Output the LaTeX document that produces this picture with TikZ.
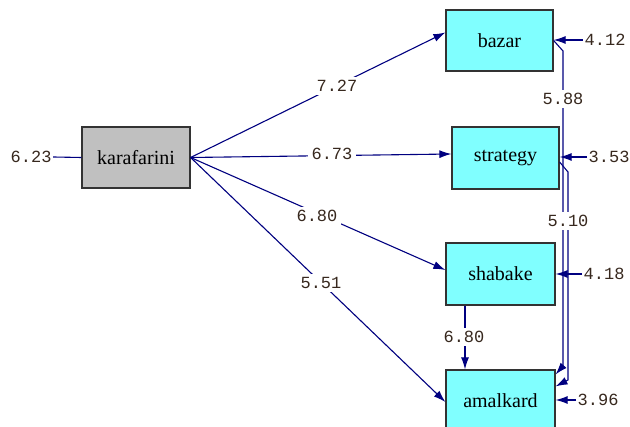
\documentclass[tikz,border=0pt]{standalone}
\usepackage{fontspec}
\setmainfont{Liberation Serif}
\newfontfamily\numfont{Liberation Mono}
\usetikzlibrary{arrows.meta}
\definecolor{pathblue}{RGB}{0,0,128}
\definecolor{boxcyan}{RGB}{128,255,255}
\definecolor{boxgray}{RGB}{192,192,192}
\definecolor{numcol}{RGB}{55,40,30}
\tikzset{
  varbox/.style={draw=black!80, line width=1.2pt, fill=boxcyan, minimum width=107pt, minimum height=62pt, inner sep=0pt, font=\fontsize{20}{22}\selectfont},
  exobox/.style={varbox, fill=boxgray},
  lbl/.style={fill=white, inner xsep=4pt, inner ysep=3pt, text=numcol, font=\numfont\fontsize{17}{18}\selectfont},
  conn/.style={draw=pathblue, line width=1.1pt},
  arr/.style={conn, -{Latex[length=12pt,width=8pt]}}
}
\begin{document}
\begin{tikzpicture}[x=1pt,y=-1pt]
\useasboundingbox (0,0) rectangle (630,427);
\fill[white] (0,0) rectangle (630,427);

% boxes
\node[exobox, minimum width=108pt, minimum height=61pt] (kar) at (136,157.5) {karafarini};
\node[varbox, minimum height=61pt] (bazar) at (499.5,40.5) {bazar\hspace{14pt}};
\node[varbox] (strat) at (505.5,158) {strategy};
\node[varbox, minimum width=109pt] (shab) at (500.5,274) {shabake};
\node[varbox, minimum width=109pt] (amal) at (500.5,401) {amalkard};

% structural paths
\draw[arr] (kar.east) -- ([yshift=8pt]bazar.west);
\draw[arr] (kar.east) -- ([yshift=4pt]strat.west);
\draw[arr] (kar.east) -- ([yshift=4pt]shab.west);
\draw[arr] (kar.east) -- ([yshift=-1pt]amal.west);
\draw[arr] (shab.south -| 465,0) -- (amal.north -| 465,0);

% covariances
\coordinate (c1a) at (563,51);
\coordinate (c1b) at (563,366);
\coordinate (c2a) at (568,172);
\coordinate (c2b) at (568,380);
\draw[arr] (bazar.east) -- (c1a) -- (c1b) -- ([yshift=-5pt]amal.north east);
\draw[arr] ([yshift=-4pt]strat.east) -- (c2a) -- (c2b) -- ([yshift=-17pt]amal.north east);

% path labels
\node[lbl] (l1) at (337,86) {7.27};
\node[lbl] (l2) at (332,154) {6.73};
\node[lbl] (l3) at (317,216) {6.80};
\node[lbl] (l4) at (321,283) {5.51};
\node[lbl] (l5) at (464,337) {6.80};
\node[lbl] (l6) at (563,99) {5.88};
\node[lbl] (l7) at (568,221) {5.10};

% error terms
\node[lbl, anchor=west, inner xsep=1.5pt] (e0) at (9,157) {6.23};
\node[lbl, anchor=west, inner xsep=1.5pt] (e1) at (583,40) {4.12};
\node[lbl, anchor=west, inner xsep=1.5pt] (e2) at (587,157) {3.53};
\node[lbl, anchor=west, inner xsep=1.5pt] (e3) at (582,274) {4.18};
\node[lbl, anchor=west, inner xsep=1.5pt] (e4) at (576,400) {3.96};
\draw[conn] (e0.east) -- (kar.west);
\draw[arr] (e1.west) -- (e1.west -| bazar.east);
\draw[arr] (e2.west) -- (e2.west -| strat.east);
\draw[arr] (e3.west) -- (e3.west -| shab.east);
\draw[arr] (e4.west) -- (e4.west -| amal.east);
\end{tikzpicture}
\end{document}
